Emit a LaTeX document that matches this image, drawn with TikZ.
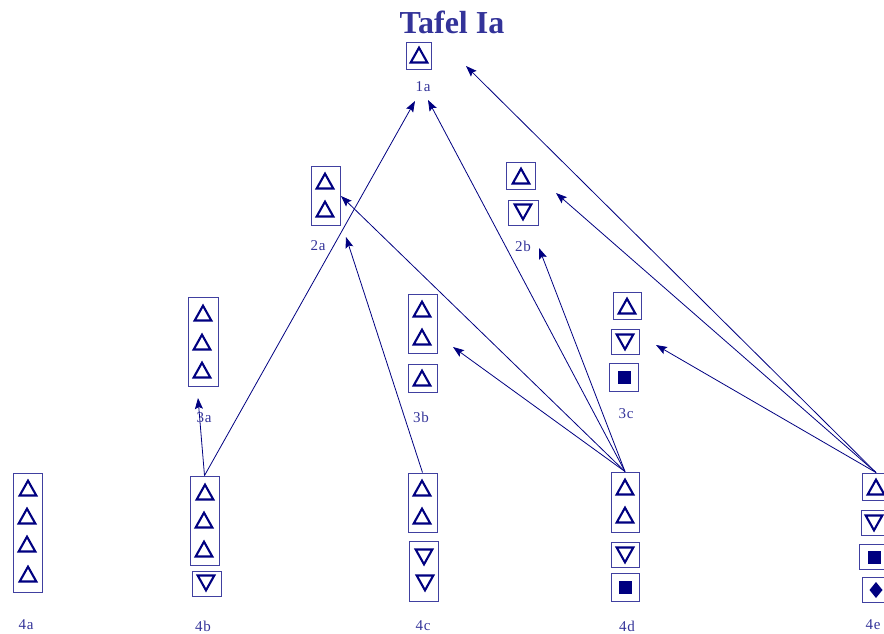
\documentclass[tikz,border=0pt]{standalone}
\usepackage{fontspec}
\setmainfont{Liberation Serif}
\usetikzlibrary{arrows.meta}
\definecolor{navy}{RGB}{0,0,128}
\definecolor{boxc}{RGB}{64,64,160}
\definecolor{lab}{RGB}{51,51,153}
\tikzset{
  symbox/.style={draw=boxc, line width=0.9pt, inner sep=0pt},
  lbl/.style={text=lab, font=\fontsize{15}{15}\selectfont, inner sep=0pt},
  conn/.style={draw=navy, line width=0.8pt, -{Stealth[length=11pt,width=8pt,inset=2pt]}},
  glyph/.style={draw=navy, line width=2.1pt, line join=miter},
}
\newcommand\mybox[5]{\node[symbox, minimum width={#4-#2}, minimum height={#5-#3}] (#1) at ({(#2+#4)/2},{(#3+#5)/2}) {};}
\newcommand\upt[2]{\draw[glyph] (#1-8.3,#2+7.5) -- (#1,#2-7.3) -- (#1+8.3,#2+7.5) -- cycle;}
\newcommand\dnt[2]{\draw[glyph] (#1-8.3,#2-7.5) -- (#1,#2+7.3) -- (#1+8.3,#2-7.5) -- cycle;}
\newcommand\sqr[2]{\fill[navy] (#1-6.5,#2-6.5) rectangle (#1+6.5,#2+6.5);}
\newcommand\dia[2]{\fill[navy] (#1,#2-8) -- (#1+6.5,#2) -- (#1,#2+8) -- (#1-6.5,#2) -- cycle;}
\begin{document}
\begin{tikzpicture}[x=1pt,y=-1pt]
\useasboundingbox (0,0) rectangle (884,634);
\clip (0,0) rectangle (884,634);
% title
\node[text=lab, font=\bfseries\fontsize{32}{32}\selectfont, inner sep=0pt] (title) at (452,22) {Tafel Ia};
% 1a
\mybox{b1a}{406}{42}{431}{69} \upt{419}{55}
\node[lbl] (l1a) at (423,87) {1\kern0.8pt a};
% 2a
\mybox{b2a}{311}{166}{340}{225} \upt{325}{181} \upt{325}{209}
\node[lbl] (l2a) at (318,246) {2\kern0.8pt a};
% 2b
\mybox{b2b1}{506}{162}{535}{189} \upt{521}{176}
\mybox{b2b2}{508}{200}{538}{225} \dnt{523}{212}
\node[lbl] (l2b) at (523,246) {2\kern0.8pt b};
% 3a
\mybox{b3a}{188}{297}{218}{386} \upt{203}{313} \upt{202}{342} \upt{202}{370}
\node[lbl] (l3a) at (204,418) {3\kern0.8pt a};
% 3b
\mybox{b3b1}{408}{294}{437}{353} \upt{422}{309} \upt{422}{337}
\mybox{b3b2}{408}{364}{437}{392} \upt{422}{378}
\node[lbl] (l3b) at (421,417) {3\kern0.8pt b};
% 3c
\mybox{b3c1}{613}{292}{641}{319} \upt{627}{306}
\mybox{b3c2}{611}{329}{639}{354} \dnt{625}{342}
\mybox{b3c3}{609}{363}{638}{391} \sqr{624}{377}
\node[lbl] (l3c) at (626,414) {3\kern0.8pt c};
% 4a
\mybox{b4a}{13}{473}{42}{592} \upt{28}{488} \upt{27}{516} \upt{27}{544} \upt{28}{574}
\node[lbl] (l4a) at (26,625) {4\kern0.8pt a};
% 4b
\mybox{b4b1}{190}{476}{219}{565} \upt{205}{492} \upt{204}{520} \upt{204}{549}
\mybox{b4b2}{192}{571}{221}{596} \dnt{206}{583}
\node[lbl] (l4b) at (203,626) {4\kern0.8pt b};
% 4c
\mybox{b4c1}{408}{473}{437}{532} \upt{422}{488} \upt{422}{516}
\mybox{b4c2}{409}{541}{438}{601} \dnt{424}{557} \dnt{425}{583}
\node[lbl] (l4c) at (423,626) {4\kern0.8pt c};
% 4d
\mybox{b4d1}{611}{472}{639}{532} \upt{625}{487} \upt{625}{515}
\mybox{b4d2}{611}{542}{639}{567} \dnt{625}{555}
\mybox{b4d3}{611}{573}{639}{601} \sqr{625}{587}
\node[lbl] (l4d) at (627,626) {4\kern0.8pt d};
% 4e
\mybox{b4e1}{862}{473}{890}{500} \upt{876}{487}
\mybox{b4e2}{861}{510}{889}{535} \dnt{874}{523}
\mybox{b4e3}{859}{544}{887}{569} \sqr{874}{557}
\mybox{b4e4}{862}{577}{890}{602} \dia{876}{590}
\node[lbl] (l4e) at (873,625) {4\kern0.8pt e};
% arrow tips
\coordinate (t3a) at (198,398);
\coordinate (t1aL) at (415,101);
\coordinate (t2aL) at (346,237);
\coordinate (t1aR) at (428,100);
\coordinate (t2aR) at (341,196);
\coordinate (t2bL) at (539,248);
\coordinate (t3b) at (453,347);
\coordinate (t1aE) at (466,66);
\coordinate (t2bE) at (556,193);
\coordinate (t3c) at (656,345);
% connectors
\draw[conn] (b4b1.north) -- (t3a);
\draw[conn] (b4b1.north) -- (t1aL);
\draw[conn] (b4c1.north) -- (t2aL);
\draw[conn] (b4d1.north) -- (t1aR);
\draw[conn] (b4d1.north) -- (t2aR);
\draw[conn] (b4d1.north) -- (t2bL);
\draw[conn] (b4d1.north) -- (t3b);
\draw[conn] (b4e1.north) -- (t1aE);
\draw[conn] (b4e1.north) -- (t2bE);
\draw[conn] (b4e1.north) -- (t3c);
\end{tikzpicture}
\end{document}
